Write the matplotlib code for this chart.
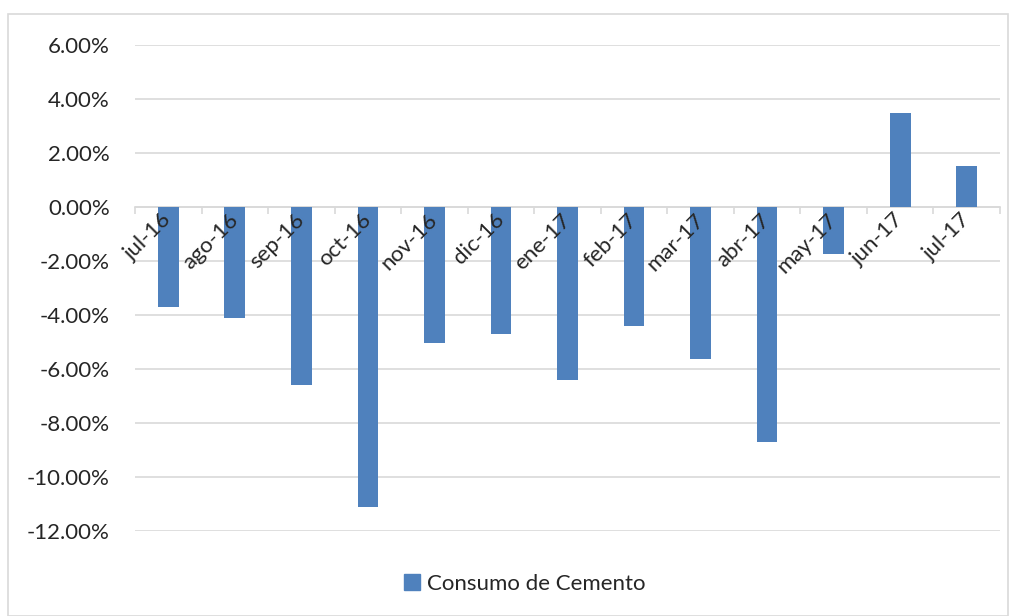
import matplotlib
matplotlib.use("Agg")
import matplotlib.pyplot as plt
from matplotlib.patches import Rectangle, Patch
from matplotlib.ticker import FuncFormatter, FixedLocator

categories = ["jul-16", "ago-16", "sep-16", "oct-16", "nov-16", "dic-16", "ene-17",
              "feb-17", "mar-17", "abr-17", "may-17", "jun-17", "jul-17"]
values = [-3.70, -4.12, -6.60, -11.10, -5.05, -4.72, -6.42,
          -4.40, -5.63, -8.70, -1.73, 3.50, 1.52]
series_name = "Consumo de Cemento"
yticks = [6, 4, 2, 0, -2, -4, -6, -8, -10, -12]

plt.rcParams['font.family'] = ['Lato', 'DejaVu Sans']
bar_color = "#4F81BD"
text_color = "#262626"
grid_color = "#D9D9D9"

fig = plt.figure(figsize=(10.16, 6.16), dpi=100)
fig.patches.append(Rectangle((8/1016, 0), 1000/1016, 1 - 14/616, transform=fig.transFigure,
                             fill=False, edgecolor="#D9D9D9", linewidth=1.2))
ax = fig.add_axes([135/1016, 1 - 531/616, 865/1016, (531 - 45)/616])

x = list(range(len(categories)))
ax.bar(x, values, width=0.31, color=bar_color, zorder=3)

ax.set_xlim(-0.5, len(categories) - 0.5)
ax.set_ylim(-12, 6)
ax.set_yticks(yticks)
ax.yaxis.set_major_formatter(FuncFormatter(lambda v, p: f"{v:.2f}%"))
ax.yaxis.grid(True, color=grid_color, linewidth=1.2)
ax.yaxis.set_zorder(0)
ax.tick_params(axis='y', length=0, labelsize=16, labelcolor=text_color, pad=18)

for s in ['top', 'right', 'left']:
    ax.spines[s].set_visible(False)
ax.spines['bottom'].set_position(('data', 0))
ax.spines['bottom'].set_color(grid_color)
ax.spines['bottom'].set_linewidth(1.2)
ax.spines['bottom'].set_zorder(2)

ax.set_xticks(x)
ax.set_xticklabels(categories, rotation=45, ha='right', va='center', rotation_mode='anchor')
ax.xaxis.set_minor_locator(FixedLocator([i - 0.5 for i in range(len(categories) + 1)]))
ax.tick_params(axis='x', which='major', length=0, labelsize=16, labelcolor=text_color, pad=7)
ax.tick_params(axis='x', which='minor', length=5, color=grid_color, width=1.2)
ax.xaxis.set_zorder(5)

fig.legend(handles=[Patch(color=bar_color, label=series_name)], loc='center',
           bbox_to_anchor=(525/1016, 1 - 584/616), frameon=False, fontsize=16,
           handlelength=0.7, handleheight=0.7, handletextpad=0.35, labelcolor=text_color)

fig.savefig("out.png", dpi=100)
